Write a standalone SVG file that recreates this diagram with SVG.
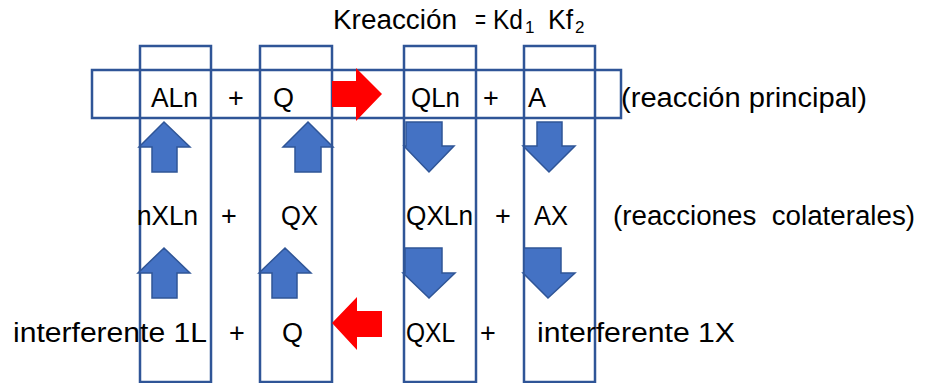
<svg xmlns="http://www.w3.org/2000/svg" width="933" height="383" viewBox="0 0 933 383">
  <style>
    .frame { fill: none; stroke: #2F5597; stroke-width: 2.5; }
    .blue { fill: #4472C4; stroke: #2F5597; stroke-width: 1.5; stroke-linejoin: miter; }
    .red { fill: #FF0000; stroke: none; }
    .t { font-family: "Liberation Sans", Arial, sans-serif; font-size: 27px; fill: #000; }
    .sub { font-family: "Liberation Sans", Arial, sans-serif; font-size: 17px; fill: #000; }
    .c { text-anchor: middle; }
  </style>

  <!-- rate constant -->
  <g id="constante">
    <text class="t" x="333" y="29" textLength="124" lengthAdjust="spacingAndGlyphs">Kreacción</text>
    <text class="t" x="475" y="29" textLength="11" lengthAdjust="spacingAndGlyphs">=</text>
    <text class="t" x="493" y="29" textLength="30" lengthAdjust="spacingAndGlyphs">Kd</text>
    <text class="sub" x="525" y="33">1</text>
    <text class="t" x="548" y="29" textLength="25" lengthAdjust="spacingAndGlyphs">Kf</text>
    <text class="sub" x="575" y="33">2</text>
  </g>

  <!-- frames: main reaction row and the four species columns -->
  <g id="marcos">
    <rect class="frame" x="140" y="46" width="71" height="336"/>
    <rect class="frame" x="260" y="46" width="72" height="336"/>
    <rect class="frame" x="404" y="46" width="72" height="336"/>
    <rect class="frame" x="524" y="46" width="71" height="336"/>
    <rect class="frame" x="92" y="70" width="529" height="48"/>
  </g>

  <!-- row 1: main reaction -->
  <g id="ALn"><text class="t" x="151" y="107" textLength="47" lengthAdjust="spacingAndGlyphs">ALn</text></g>
  <g id="mas1"><text class="t c" x="236" y="107">+</text></g>
  <g id="Q1"><text class="t" x="273" y="107">Q</text></g>
  <g id="QLn"><text class="t" x="411" y="107" textLength="49" lengthAdjust="spacingAndGlyphs">QLn</text></g>
  <g id="mas2"><text class="t c" x="491" y="107">+</text></g>
  <g id="A"><text class="t" x="528" y="107">A</text></g>
  <g id="principal"><text class="t" x="621" y="107" textLength="246" lengthAdjust="spacingAndGlyphs">(reacción principal)</text></g>

  <!-- row 2: side reactions -->
  <g id="nXLn"><text class="t" x="137" y="225" textLength="61" lengthAdjust="spacingAndGlyphs">nXLn</text></g>
  <g id="mas3"><text class="t c" x="229" y="225">+</text></g>
  <g id="QX"><text class="t" x="281" y="225" textLength="37" lengthAdjust="spacingAndGlyphs">QX</text></g>
  <g id="QXLn"><text class="t" x="406" y="225" textLength="67" lengthAdjust="spacingAndGlyphs">QXLn</text></g>
  <g id="mas4"><text class="t c" x="503" y="225">+</text></g>
  <g id="AX"><text class="t" x="534" y="225" textLength="34" lengthAdjust="spacingAndGlyphs">AX</text></g>
  <g id="colaterales"><text class="t" x="613" y="225" xml:space="preserve" textLength="302" lengthAdjust="spacingAndGlyphs">(reacciones  colaterales)</text></g>

  <!-- row 3: interferent -->
  <g id="interferente1L"><text class="t" x="13" y="342" textLength="194" lengthAdjust="spacingAndGlyphs">interferente 1L</text></g>
  <g id="mas5"><text class="t c" x="237" y="342">+</text></g>
  <g id="Q2"><text class="t" x="282" y="342">Q</text></g>
  <g id="QXL"><text class="t" x="406" y="342" textLength="49" lengthAdjust="spacingAndGlyphs">QXL</text></g>
  <g id="mas6"><text class="t c" x="488" y="342">+</text></g>
  <g id="interferente1X"><text class="t" x="537" y="342" textLength="198" lengthAdjust="spacingAndGlyphs">interferente 1X</text></g>

  <!-- block arrows -->
  <g id="conectores">
    <!-- upward arrows, row 1 -->
    <polygon class="blue" points="164,122 190,147 177,147 177,172 152,172 152,147 139,147"/>
    <polygon class="blue" points="308,122 333,147 321,147 321,172 295,172 295,147 283,147"/>
    <!-- downward arrows, row 1 -->
    <polygon class="blue" points="406,122 442,122 442,146 454,146 429,172 404,146 406,146"/>
    <polygon class="blue" points="537,122 562,122 562,146 575,146 549,172 523,146 537,146"/>
    <!-- upward arrows, row 2 -->
    <polygon class="blue" points="164,248 190,273 177,273 177,298 152,298 152,273 138,273"/>
    <polygon class="blue" points="285,248 311,273 297,273 297,298 272,298 272,273 259,273"/>
    <!-- downward arrows, row 2 -->
    <polygon class="blue" points="405,248 442,248 442,273 455,273 429,298 403,273 405,273"/>
    <polygon class="blue" points="524,248 561,248 561,273 575,273 548,298 523,273 524,273"/>
    <!-- red reaction arrows -->
    <polygon class="red" points="332,81 356,81 356,68 382,94 356,121 356,107 332,107"/>
    <polygon class="red" points="332,323 357,297 357,311 382,311 382,337 357,337 357,350"/>
  </g>
</svg>
